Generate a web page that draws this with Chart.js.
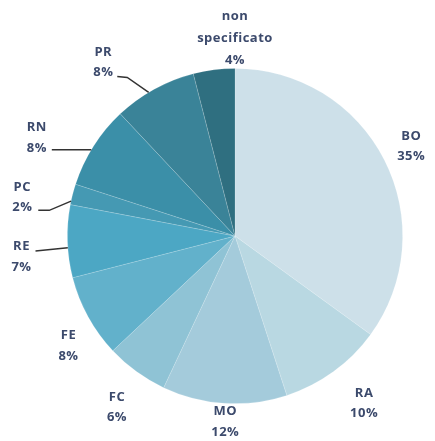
<!DOCTYPE html>
<html><head><meta charset="utf-8">
<script src="https://cdn.jsdelivr.net/npm/chart.js@4/dist/chart.umd.min.js"></script>
<style>html,body{margin:0;padding:0;background:#fff}#wrap{width:435px;height:441px}</style>
</head><body><div id="wrap"><canvas id="c" width="435" height="441"></canvas></div>
<script>
const categories = ["BO","RA","MO","FC","FE","RE","PC","RN","PR","non specificato"];
const percentages = [35,10,12,6,8,7,2,8,8,4];
const sliceColors = ["#cde0e9","#b9d8e2","#a4cbdb","#8fc3d5","#62b1cb","#4ca7c4","#4599b3","#3b8fa8","#3a8398","#2f6f80"];

// label placement: angle (deg clockwise from top) and distance as fraction of radius
const labelPlace = [
  {a:63,r:1.18},{a:142.3,r:1.26},{a:183,r:1.11},{a:214.6,r:1.24},{a:236.6,r:1.19},
  {a:264.4,r:1.28},{a:280.3,r:1.29},{a:296.4,r:1.32},{a:322.8,r:1.30},{a:360,r:1.18}
];
// leader lines: points relative to label centre, then end angle on the arc edge
const leaders = {
  5:{pts:[[14,-6]],end:266},
  6:{pts:[[16,13],[27,13]],end:282},
  7:{pts:[[15,12]],end:301},
  8:{pts:[[14,14],[24,15]],end:329}
};

const labelPlugin = {
  id:'pieLabels',
  afterDatasetsDraw(chart){
    const ctx = chart.ctx;
    const arc0 = chart.getDatasetMeta(0).data[0];
    const cx = arc0.x, cy = arc0.y, R = arc0.outerRadius;
    const pt = (deg, r) => [cx + r*Math.sin(deg*Math.PI/180), cy - r*Math.cos(deg*Math.PI/180)];
    ctx.save();
    ctx.font = 'bold 13px "Open Sans"';
    ctx.letterSpacing = '0.5px';
    ctx.fillStyle = '#3c4a6c';
    ctx.textAlign = 'center';
    ctx.textBaseline = 'middle';
    categories.forEach((cat,i)=>{
      const p = labelPlace[i];
      const [x,y] = pt(p.a, p.r*R);
      const lines = cat === 'non specificato' ? ['non','specificato', percentages[i]+'%'] : [cat, percentages[i]+'%'];
      const lh = cat === 'non specificato' ? 22 : 20.5;
      const y0 = y - (lines.length-1)*lh/2;
      lines.forEach((t,k)=>ctx.fillText(t, x, y0 + k*lh));
      const L = leaders[i];
      if (L){
        ctx.beginPath();
        ctx.strokeStyle = '#333333';
        ctx.lineWidth = 1.5;
        L.pts.forEach((q,k)=>{ if(k===0) ctx.moveTo(x+q[0], y+q[1]); else ctx.lineTo(x+q[0], y+q[1]); });
        const e = pt(L.end, R);
        ctx.lineTo(e[0], e[1]);
        ctx.stroke();
      }
    });
    ctx.restore();
  }
};

new Chart(document.getElementById('c'), {
  type:'pie',
  data:{labels:categories, datasets:[{data:percentages, backgroundColor:sliceColors,
    borderColor:'rgba(255,255,255,0.2)', borderWidth:0.8, hoverOffset:0, offset:0}]},
  options:{
    responsive:false, animation:false,
    layout:{padding:{left:67,right:32,top:68,bottom:37}},
    plugins:{legend:{display:false},tooltip:{enabled:false}}
  },
  plugins:[labelPlugin]
});
</script></body></html>
